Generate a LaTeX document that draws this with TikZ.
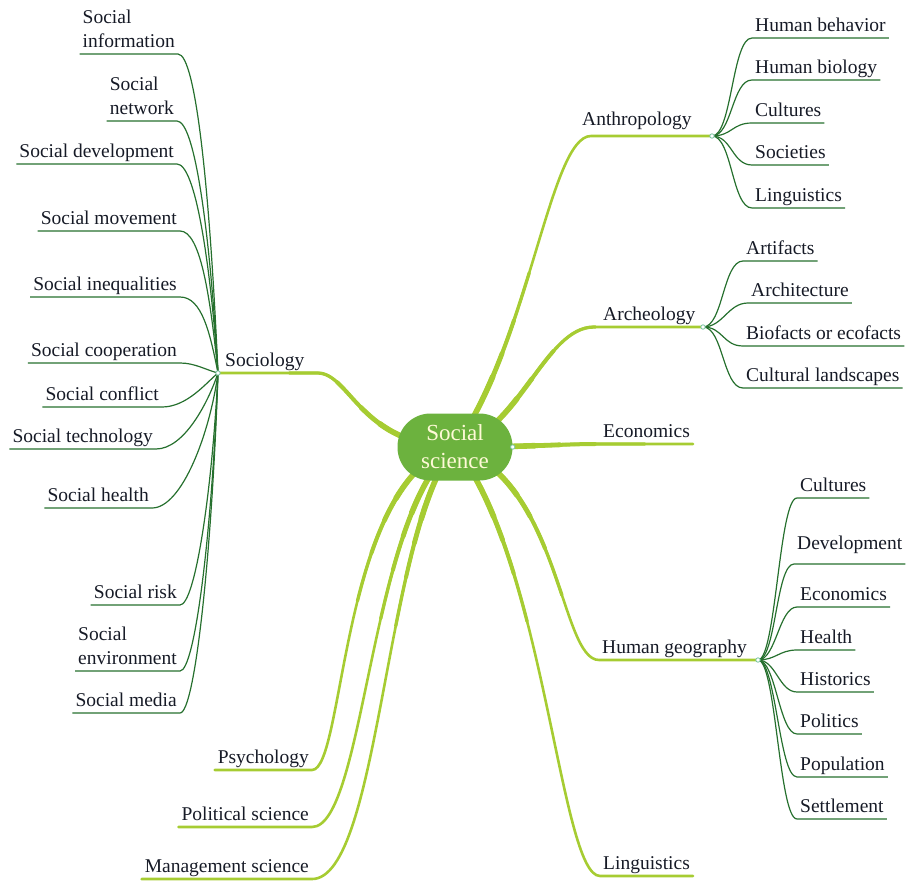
\documentclass[tikz,border=0pt]{standalone}
\usepackage{fontspec}
\setmainfont{Liberation Serif}
\usetikzlibrary{backgrounds}

\definecolor{rootgreen}{RGB}{108,178,62}
\definecolor{rootink}{RGB}{255,250,215}
\definecolor{branchgreen}{RGB}{166,204,50}
\definecolor{twiggreen}{RGB}{38,112,46}
\definecolor{labelink}{RGB}{22,26,38}
\definecolor{knobteal}{RGB}{120,196,160}

\begin{document}
\begin{tikzpicture}[
  x=1pt, y=-1pt,
  font=\fontsize{19.5}{24}\selectfont,
  root/.style={fill=rootgreen, rounded corners=33pt, minimum width=115pt, minimum height=67pt,
    align=center, text=rootink, font=\fontsize{23}{28}\selectfont},
  topic/.style={text=labelink, inner xsep=3pt, inner ysep=6pt, text depth=0pt},
  leaf/.style={topic, align=left},
  mainline/.style={draw=branchgreen, line width=2.6pt, line cap=round,
    postaction={draw=branchgreen, line cap=round, line width=3.3pt, dash pattern=on 190pt off 3000pt},
    postaction={draw=branchgreen, line cap=round, line width=4pt, dash pattern=on 140pt off 3000pt},
    postaction={draw=branchgreen, line cap=round, line width=4.8pt, dash pattern=on 105pt off 3000pt},
    postaction={draw=branchgreen, line cap=round, line width=5.6pt, dash pattern=on 80pt off 3000pt}},
  twigline/.style={draw=twiggreen, line width=1.2pt},
  knob/.style={draw=knobteal, fill=white, line width=0.8pt}
]
\useasboundingbox (0,0) rectangle (917,882);

\node[root] (ss) at (455,447) {Social\\science};

\node[topic, anchor=south west, inner ysep=10pt] (anth) at (579,136) {Anthropology};
\node[topic, anchor=south west] (arch) at (600,327) {Archeology};
\node[topic, anchor=south west] (econ) at (600,444) {Economics};
\node[topic, anchor=south west] (hgeo) at (599,660) {Human geography};
\node[topic, anchor=south west] (ling) at (600,876) {Linguistics};
\node[topic, anchor=south west] (socio) at (222,373) {Sociology};
\node[topic, anchor=south east] (psych) at (312,770) {Psychology};
\node[topic, anchor=south east] (polit) at (312,827) {Political science};
\node[topic, anchor=south east] (manag) at (312,879) {Management science};

\coordinate (anthhub) at (712,136);
\coordinate (archhub) at (703,327);
\coordinate (geohub) at (758,660);
\coordinate (sochub) at (218,373);

\node[leaf, anchor=south west] (hbeh) at (752,38) {Human behavior};
\node[leaf, anchor=south west] (hbio) at (752,80) {Human biology};
\node[leaf, anchor=south west] (acult) at (752,123) {Cultures};
\node[leaf, anchor=south west] (asoc) at (752,165) {Societies};
\node[leaf, anchor=south west] (aling) at (752,208) {Linguistics};

\node[leaf, anchor=south west] (artif) at (743,261) {Artifacts};
\node[leaf, anchor=south west] (archit) at (748,303) {Architecture};
\node[leaf, anchor=south west] (biof) at (743,346) {Biofacts or ecofacts};
\node[leaf, anchor=south west] (cland) at (743,388) {Cultural landscapes};

\node[leaf, anchor=south west] (gcult) at (797,498) {Cultures};
\node[leaf, anchor=south west, inner ysep=14pt] (gdev) at (794,564) {Development};
\node[leaf, anchor=south west] (gecon) at (797,607) {Economics};
\node[leaf, anchor=south west] (ghealth) at (797,650) {Health};
\node[leaf, anchor=south west] (ghist) at (797,692) {Historics};
\node[leaf, anchor=south west] (gpol) at (797,734) {Politics};
\node[leaf, anchor=south west] (gpop) at (797,777) {Population};
\node[leaf, anchor=south west] (gsett) at (797,819) {Settlement};

\node[leaf, anchor=south east] (sinfo) at (178,54) {Social\\information};
\node[leaf, anchor=south east] (snet) at (177,121) {Social\\network};
\node[leaf, anchor=south east] (sdev) at (177,164) {Social development};
\node[leaf, anchor=south east] (smov) at (180,231) {Social movement};
\node[leaf, anchor=south east] (sineq) at (180,297) {Social inequalities};
\node[leaf, anchor=south east] (scoop) at (180,363) {Social cooperation};
\node[leaf, anchor=south east] (sconf) at (162,407) {Social conflict};
\node[leaf, anchor=south east] (stech) at (156,449) {Social technology};
\node[leaf, anchor=south east] (shealth) at (152,508) {Social health};
\node[leaf, anchor=south east] (srisk) at (180,605) {Social risk};
\node[leaf, anchor=south east] (senv) at (180,671) {Social\\environment};
\node[leaf, anchor=south east] (smedia) at (180,713) {Social media};

\begin{scope}[on background layer]
\draw[mainline] (ss.center) .. controls (530,340) and (550,136) .. ([xshift=12pt]anth.south west) -- (anthhub);
\draw[mainline] (ss.center) .. controls (520,430) and (545,327) .. ([xshift=-6pt]arch.south west) -- (archhub);
\draw[mainline] (ss.center) .. controls (530,447) and (560,444) .. (econ.south west) -- (econ.south east);
\draw[mainline] (ss.center) .. controls (560,480) and (560,660) .. (hgeo.south west) -- (geohub);
\draw[mainline] (ss.center) .. controls (545,560) and (560,876) .. (ling.south west) -- (ling.south east);
\draw[mainline] (ss.center) .. controls (360,445) and (350,373) .. ([xshift=10pt]socio.south east) -- (sochub);
\draw[mainline] (ss.center) .. controls (340,480) and (345,770) .. (psych.south east) -- (psych.south west);
\draw[mainline] (ss.center) .. controls (370,510) and (365,827) .. (polit.south east) -- (polit.south west);
\draw[mainline] (ss.center) .. controls (385,530) and (380,879) .. (manag.south east) -- (manag.south west);

\foreach \kid in {hbeh,hbio,acult,asoc,aling}
  \draw[twigline] (anthhub) .. controls +(20,0) and +(-20,0) .. (\kid.south west) -- (\kid.south east);
\foreach \kid in {artif,archit,biof,cland}
  \draw[twigline] (archhub) .. controls +(20,0) and +(-20,0) .. (\kid.south west) -- (\kid.south east);
\foreach \kid in {gcult,gdev,gecon,ghealth,ghist,gpol,gpop,gsett}
  \draw[twigline] (geohub) .. controls +(18,0) and +(-18,0) .. (\kid.south west) -- (\kid.south east);

\draw[twigline] (sochub) .. controls +(-8,-180) and +(18,0) .. (sinfo.south east) -- (sinfo.south west);
\draw[twigline] (sochub) .. controls +(-8,-140) and +(18,0) .. (snet.south east) -- (snet.south west);
\draw[twigline] (sochub) .. controls +(-8,-115) and +(18,0) .. (sdev.south east) -- (sdev.south west);
\draw[twigline] (sochub) .. controls +(-8,-80) and +(20,0) .. (smov.south east) -- (smov.south west);
\draw[twigline] (sochub) .. controls +(-8,-40) and +(22,0) .. (sineq.south east) -- (sineq.south west);
\draw[twigline] (sochub) .. controls +(-12,-3) and +(15,0) .. (scoop.south east) -- (scoop.south west);
\draw[twigline] (sochub) .. controls +(-12,10) and +(25,0) .. (sconf.south east) -- (sconf.south west);
\draw[twigline] (sochub) .. controls +(-10,30) and +(28,0) .. (stech.south east) -- (stech.south west);
\draw[twigline] (sochub) .. controls +(-8,60) and +(30,0) .. (shealth.south east) -- (shealth.south west);
\draw[twigline] (sochub) .. controls +(-6,120) and +(15,0) .. (srisk.south east) -- (srisk.south west);
\draw[twigline] (sochub) .. controls +(-6,160) and +(15,0) .. (senv.south east) -- (senv.south west);
\draw[twigline] (sochub) .. controls +(-6,180) and +(15,0) .. (smedia.south east) -- (smedia.south west);
\end{scope}

\foreach \hub in {anthhub,archhub,geohub,sochub}
  \draw[knob] (\hub) circle (2.2);
\draw[knob] (ss.east) circle (2.2);
\end{tikzpicture}
\end{document}
